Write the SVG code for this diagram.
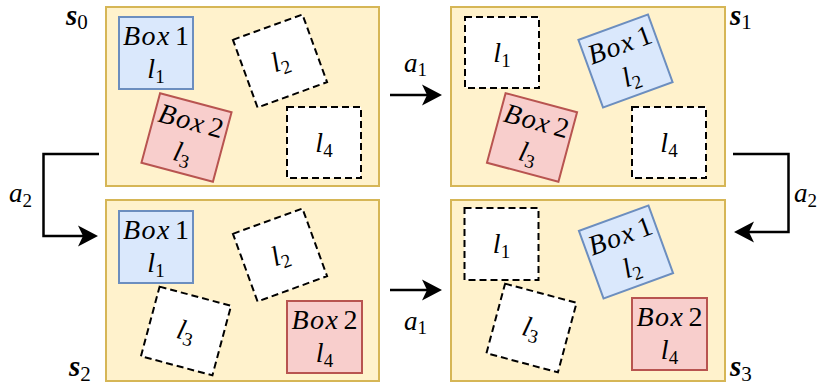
<svg xmlns="http://www.w3.org/2000/svg" width="818" height="385" viewBox="0 0 818 385">
  <defs>
    <style>
      .panel { fill: #fff2cc; stroke: #d6b656; stroke-width: 2; }
      .blue { fill: #dae8fc; stroke: #6c8ebf; stroke-width: 2; }
      .red { fill: #f8cecc; stroke: #b85450; stroke-width: 2; }
      .slot { fill: #ffffff; stroke: #000000; stroke-width: 2; stroke-dasharray: 7 4; }
      .t { font-size: 28px; text-anchor: middle; }
      .lbl { font-size: 27px; }
      .it { font-style: italic; }
      .sub { font-size: 19px; }
      .st { font-size: 29px; font-weight: bold; font-style: italic; }
      .ssub { font-size: 21px; }
      .edge { fill: none; stroke: #000000; stroke-width: 2.5; marker-end: url(#head); }
    </style>
    <marker id="head" viewBox="0 0 22 22" markerUnits="userSpaceOnUse" markerWidth="22" markerHeight="22" refX="5" refY="11" orient="auto">
      <path d="M0,0.5 L20,11 L0,21.5 L5,11 Z" fill="#000000"/>
    </marker>
  </defs>

  <g font-family="'Liberation Serif', serif" fill="#000000">
  <!-- state s0 -->
  <g id="s0">
    <rect class="panel" x="106" y="7" width="273" height="179"/>
    <text x="66" y="25"><tspan class="st">s</tspan><tspan class="ssub" dy="4">0</tspan></text>
    <g id="s0-box1" transform="translate(156,53)">
      <rect class="blue" x="-37" y="-36" width="74" height="72"/>
      <text class="t" y="-8"><tspan class="it" letter-spacing="1.5">Box</tspan><tspan dx="4">1</tspan></text>
      <text class="t" y="25"><tspan class="it">l</tspan><tspan class="sub" dy="5">1</tspan></text>
    </g>
    <g id="s0-box2" transform="translate(186.5,137.5) rotate(15)">
      <rect class="red" x="-37" y="-36" width="74" height="72"/>
      <text class="t" y="-8"><tspan class="it" letter-spacing="1.5">Box</tspan><tspan dx="4">2</tspan></text>
      <text class="t" y="25"><tspan class="it">l</tspan><tspan class="sub" dy="5">3</tspan></text>
    </g>
    <g id="s0-l2" transform="translate(280,61) rotate(-20)">
      <rect class="slot" x="-37" y="-36" width="74" height="72"/>
      <text class="t" y="9"><tspan class="it">l</tspan><tspan class="sub" dy="5">2</tspan></text>
    </g>
    <g id="s0-l4" transform="translate(324,142.5)">
      <rect class="slot" x="-37" y="-35.5" width="74" height="71"/>
      <text class="t" y="9"><tspan class="it">l</tspan><tspan class="sub" dy="5">4</tspan></text>
    </g>
  </g>

  <!-- state s1 -->
  <g id="s1">
    <rect class="panel" x="451" y="7" width="274" height="179"/>
    <text x="730" y="25"><tspan class="st">s</tspan><tspan class="ssub" dy="4">1</tspan></text>
    <g id="s1-l1" transform="translate(502,52.5)">
      <rect class="slot" x="-37" y="-35.5" width="74" height="71"/>
      <text class="t" y="9"><tspan class="it">l</tspan><tspan class="sub" dy="5">1</tspan></text>
    </g>
    <g id="s1-box1" transform="translate(625.5,61) rotate(-20)">
      <rect class="blue" x="-37" y="-36" width="74" height="72"/>
      <text class="t" y="-8"><tspan class="it" letter-spacing="1.5">Box</tspan><tspan dx="4">1</tspan></text>
      <text class="t" y="25"><tspan class="it">l</tspan><tspan class="sub" dy="5">2</tspan></text>
    </g>
    <g id="s1-box2" transform="translate(532,137.5) rotate(15)">
      <rect class="red" x="-37" y="-36" width="74" height="72"/>
      <text class="t" y="-8"><tspan class="it" letter-spacing="1.5">Box</tspan><tspan dx="4">2</tspan></text>
      <text class="t" y="25"><tspan class="it">l</tspan><tspan class="sub" dy="5">3</tspan></text>
    </g>
    <g id="s1-l4" transform="translate(669,142.5)">
      <rect class="slot" x="-37" y="-35.5" width="74" height="71"/>
      <text class="t" y="9"><tspan class="it">l</tspan><tspan class="sub" dy="5">4</tspan></text>
    </g>
  </g>

  <!-- state s2 -->
  <g id="s2">
    <rect class="panel" x="106" y="200" width="273" height="181"/>
    <text x="69" y="376"><tspan class="st">s</tspan><tspan class="ssub" dy="5">2</tspan></text>
    <g id="s2-box1" transform="translate(156,247)">
      <rect class="blue" x="-37" y="-36" width="74" height="72"/>
      <text class="t" y="-8"><tspan class="it" letter-spacing="1.5">Box</tspan><tspan dx="4">1</tspan></text>
      <text class="t" y="25"><tspan class="it">l</tspan><tspan class="sub" dy="5">1</tspan></text>
    </g>
    <g id="s2-l2" transform="translate(280,255) rotate(-20)">
      <rect class="slot" x="-37" y="-36" width="74" height="72"/>
      <text class="t" y="9"><tspan class="it">l</tspan><tspan class="sub" dy="5">2</tspan></text>
    </g>
    <g id="s2-l3" transform="translate(186,331) rotate(15)">
      <rect class="slot" x="-37" y="-36" width="74" height="72"/>
      <text class="t" y="9"><tspan class="it">l</tspan><tspan class="sub" dy="5">3</tspan></text>
    </g>
    <g id="s2-box2" transform="translate(324.5,337)">
      <rect class="red" x="-37.5" y="-36" width="75" height="72"/>
      <text class="t" y="-8"><tspan class="it" letter-spacing="1.5">Box</tspan><tspan dx="4">2</tspan></text>
      <text class="t" y="25"><tspan class="it">l</tspan><tspan class="sub" dy="5">4</tspan></text>
    </g>
  </g>

  <!-- state s3 -->
  <g id="s3">
    <rect class="panel" x="451" y="200" width="274" height="181"/>
    <text x="730" y="376"><tspan class="st">s</tspan><tspan class="ssub" dy="5">3</tspan></text>
    <g id="s3-l1" transform="translate(501.5,244)">
      <rect class="slot" x="-37" y="-36" width="74" height="72"/>
      <text class="t" y="9"><tspan class="it">l</tspan><tspan class="sub" dy="5">1</tspan></text>
    </g>
    <g id="s3-box1" transform="translate(626,252) rotate(-20)">
      <rect class="blue" x="-37" y="-36" width="74" height="72"/>
      <text class="t" y="-8"><tspan class="it" letter-spacing="1.5">Box</tspan><tspan dx="4">1</tspan></text>
      <text class="t" y="25"><tspan class="it">l</tspan><tspan class="sub" dy="5">2</tspan></text>
    </g>
    <g id="s3-l3" transform="translate(531.5,328) rotate(15)">
      <rect class="slot" x="-37" y="-36" width="74" height="72"/>
      <text class="t" y="9"><tspan class="it">l</tspan><tspan class="sub" dy="5">3</tspan></text>
    </g>
    <g id="s3-box2" transform="translate(669.5,334)">
      <rect class="red" x="-37.5" y="-36" width="75" height="72"/>
      <text class="t" y="-8"><tspan class="it" letter-spacing="1.5">Box</tspan><tspan dx="4">2</tspan></text>
      <text class="t" y="25"><tspan class="it">l</tspan><tspan class="sub" dy="5">4</tspan></text>
    </g>
  </g>

  <!-- transitions -->
  <g id="connectors">
    <path class="edge" d="M390,95 H427"/>
    <text class="lbl" x="404" y="72"><tspan class="it">a</tspan><tspan class="sub" dy="4">1</tspan></text>

    <path class="edge" d="M390,290 H427"/>
    <text class="lbl" x="404" y="330"><tspan class="it">a</tspan><tspan class="sub" dy="4">1</tspan></text>

    <path class="edge" d="M99,154 H43.5 V236 H83"/>
    <text class="lbl" x="9" y="202"><tspan class="it">a</tspan><tspan class="sub" dy="5">2</tspan></text>

    <path class="edge" d="M733,154 H788.5 V232 H749"/>
    <text class="lbl" x="794" y="202"><tspan class="it">a</tspan><tspan class="sub" dy="5">2</tspan></text>
  </g>
  </g>
</svg>
